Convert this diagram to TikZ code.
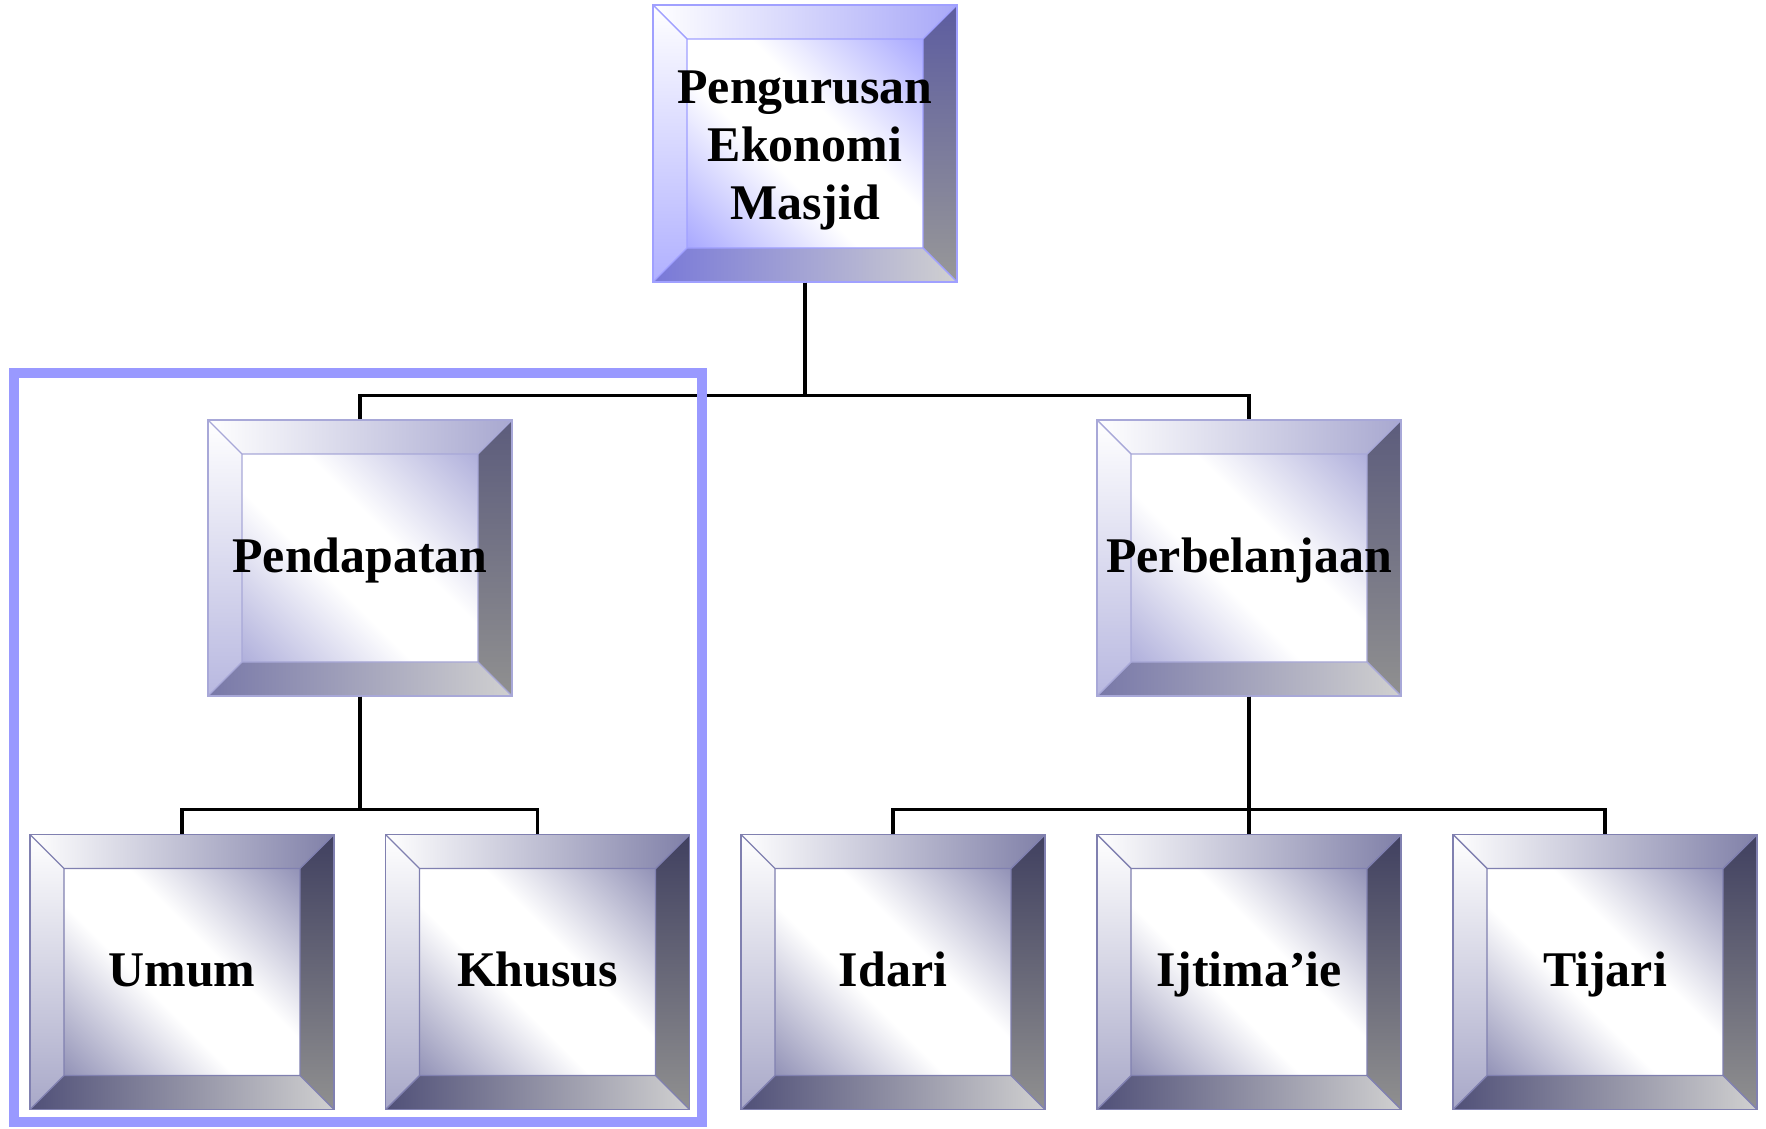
\documentclass[tikz,border=0pt]{standalone}
\usepackage{fontspec}
\setmainfont{Liberation Serif}
\usetikzlibrary{calc}

\def\bev{0.34cm}

% face of a bevel box: white band along the main diagonal
\pgfdeclareverticalshading[bvface]{bvfaceshade}{100bp}{%
  color(0bp)=(bvface); color(12bp)=(bvface); color(42bp)=(white);
  color(58bp)=(white); color(88bp)=(bvface); color(100bp)=(bvface)}

\tikzset{
  topscheme/.code={%
    \definecolor{bvtop}{HTML}{A8A8F8}\definecolor{bvrt}{HTML}{5C5CA0}%
    \definecolor{bvrb}{HTML}{989898}\definecolor{bvbl}{HTML}{7878D8}%
    \definecolor{bvbr}{HTML}{D0D0D0}\definecolor{bvlf}{HTML}{B0B0FF}%
    \definecolor{bvface}{HTML}{A0A0FF}\definecolor{bvline}{HTML}{A0A0FF}},
  midscheme/.code={%
    \definecolor{bvtop}{HTML}{A8A8D0}\definecolor{bvrt}{HTML}{5C5C7C}%
    \definecolor{bvrb}{HTML}{909090}\definecolor{bvbl}{HTML}{7878A8}%
    \definecolor{bvbr}{HTML}{D0D0D0}\definecolor{bvlf}{HTML}{B8B8E0}%
    \definecolor{bvface}{HTML}{A8A8D8}\definecolor{bvline}{HTML}{A8A8D8}},
  lowscheme/.code={%
    \definecolor{bvtop}{HTML}{8080A8}\definecolor{bvrt}{HTML}{404060}%
    \definecolor{bvrb}{HTML}{909090}\definecolor{bvbl}{HTML}{505078}%
    \definecolor{bvbr}{HTML}{D0D0D0}\definecolor{bvlf}{HTML}{A8A8C8}%
    \definecolor{bvface}{HTML}{8888B0}\definecolor{bvline}{HTML}{8080B0}},
  bevelbox/.style={rectangle, minimum width=3.04cm, minimum height=2.75cm,
    inner sep=0pt, draw=bvline, line width=0.4pt, align=center,
    font=\fontsize{14.2}{16.5}\selectfont\bfseries,
    path picture={
      \coordinate (bvNW) at (path picture bounding box.north west);
      \coordinate (bvNE) at (path picture bounding box.north east);
      \coordinate (bvSE) at (path picture bounding box.south east);
      \coordinate (bvSW) at (path picture bounding box.south west);
      \coordinate (bviNW) at ($(bvNW)+(\bev,-\bev)$);
      \coordinate (bviNE) at ($(bvNE)+(-\bev,-\bev)$);
      \coordinate (bviSE) at ($(bvSE)+(-\bev,\bev)$);
      \coordinate (bviSW) at ($(bvSW)+(\bev,\bev)$);
      \shade[shading=bvfaceshade, shading angle=-45] (bviNW) rectangle (bviSE);
      \shade[left color=white, right color=bvtop]
        (bvNW) -- (bvNE) -- (bviNE) -- (bviNW) -- cycle;
      \shade[top color=bvrt, bottom color=bvrb]
        (bvNE) -- (bvSE) -- (bviSE) -- (bviNE) -- cycle;
      \shade[left color=bvbl, right color=bvbr]
        (bvSW) -- (bvSE) -- (bviSE) -- (bviSW) -- cycle;
      \shade[top color=white, bottom color=bvlf]
        (bvNW) -- (bvSW) -- (bviSW) -- (bviNW) -- cycle;
      \draw[bvline, line width=0.4pt] (bviNW) rectangle (bviSE)
        (bvNW) -- (bviNW) (bvNE) -- (bviNE) (bvSE) -- (bviSE) (bvSW) -- (bviSW);
    }},
  oneline/.style={text height=0.8em, text depth=0pt},
  link/.style={line width=0.9pt},
  groupline/.style={draw={rgb,255:red,153;green,153;blue,255}, line width=3.1pt}
}

\begin{document}
\begin{tikzpicture}
  \useasboundingbox (0,0) rectangle (17.66,11.28);

  \node[topscheme, bevelbox, minimum height=2.77cm] (top) at (8.05,9.845)
    {\rule{0pt}{0.95em}Pengurusan\\Ekonomi\\Masjid};
  \node[midscheme, bevelbox, oneline, minimum height=2.76cm] (pend) at (3.60,5.70) {Pendapatan};
  \node[midscheme, bevelbox, oneline, minimum height=2.76cm] (perb) at (12.49,5.70) {Perbelanjaan};
  \node[lowscheme, bevelbox, oneline] (umum) at (1.82,1.56) {Umum};
  \node[lowscheme, bevelbox, oneline] (khusus) at (5.375,1.56) {Khusus};
  \node[lowscheme, bevelbox, oneline] (idari) at (8.93,1.56) {Idari};
  \node[lowscheme, bevelbox, oneline] (ijtimaie) at (12.49,1.56) {Ijtima’ie};
  \node[lowscheme, bevelbox, oneline] (tijari) at (16.05,1.56) {Tijari};

  % tree links
  \begin{scope}[link]
    \draw (top.south) -- ++(0,-1.13) -| (pend.north);
    \draw (top.south) -- ++(0,-1.13) -| (perb.north);
    \draw (pend.south) -- ++(0,-1.13) -| (umum.north);
    \draw (pend.south) -- ++(0,-1.13) -| (khusus.north);
    \draw (perb.south) -- ++(0,-1.13) -| (idari.north);
    \draw (perb.south) -- ++(0,-1.13) -| (ijtimaie.north);
    \draw (perb.south) -- ++(0,-1.13) -| (tijari.north);
  \end{scope}

  % frame round the income branch
  \draw[groupline] (0.14,7.55) rectangle (7.02,0.06);
\end{tikzpicture}
\end{document}
